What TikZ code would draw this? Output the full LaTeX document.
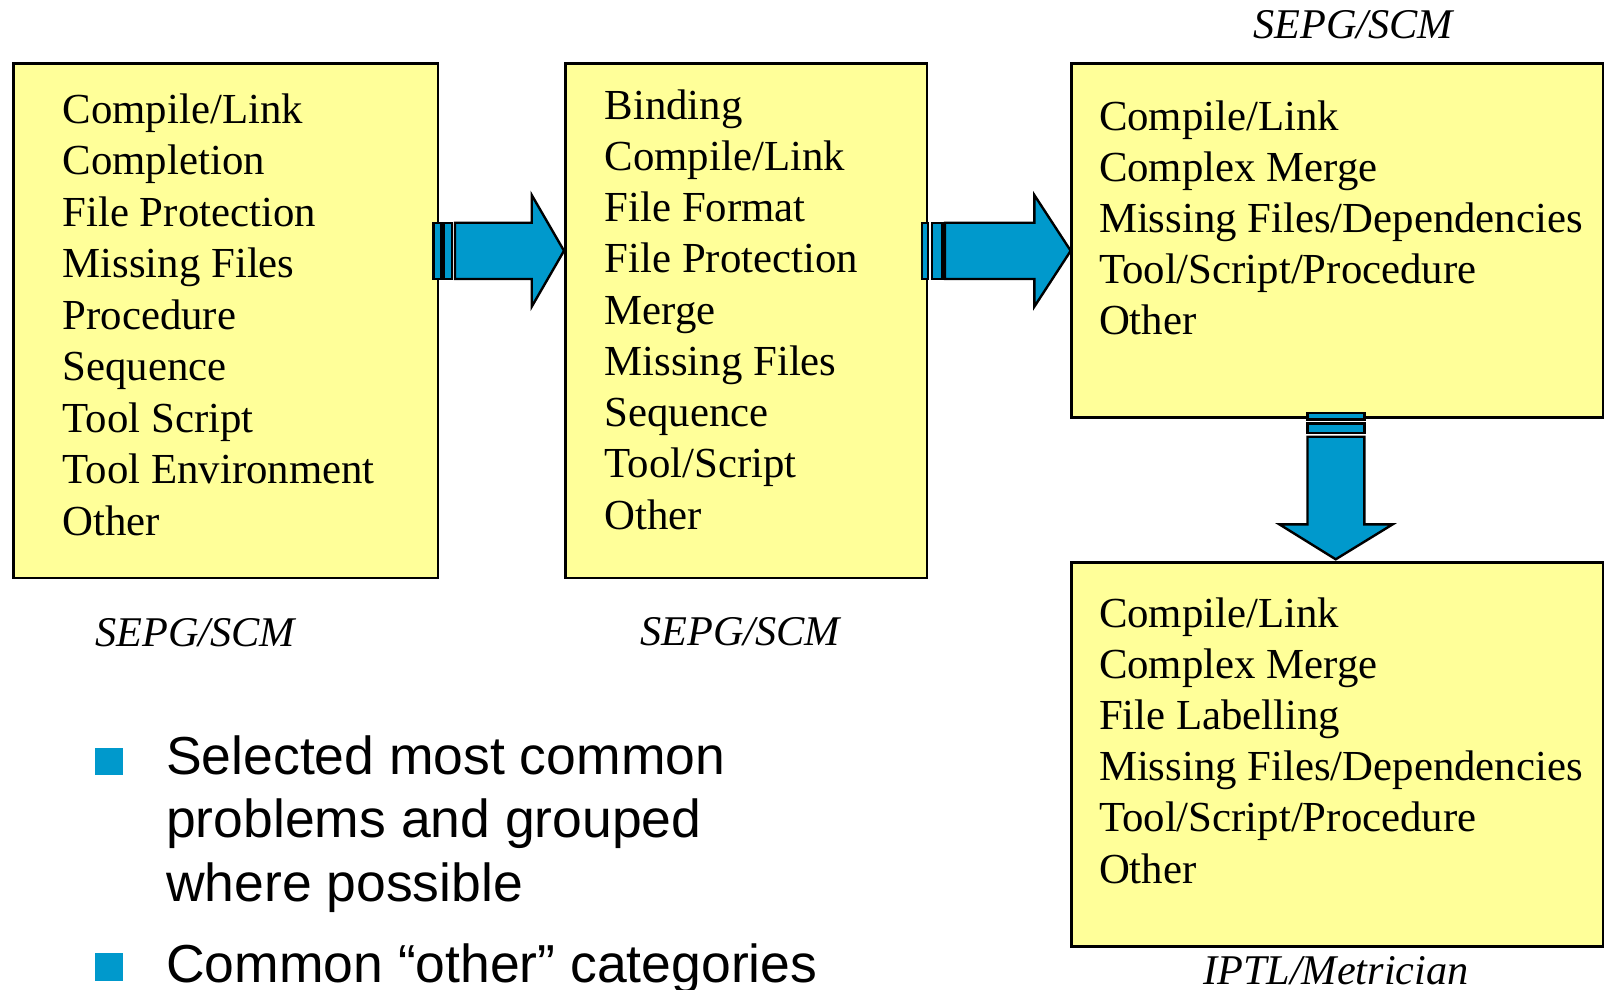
\documentclass[tikz,border=0pt]{standalone}
\usepackage{fontspec}
\setmainfont{Liberation Serif}
\newfontfamily\sansf{Liberation Sans}
\definecolor{boxyellow}{HTML}{FFFF99}
\definecolor{arrowblue}{HTML}{0099CC}
\begin{document}
\begin{tikzpicture}[x=1pt,y=-1pt,
  box/.style={draw=black, line width=2.6pt, fill=boxyellow, inner sep=0pt, anchor=north west},
  blockarrow/.style={draw=black, line width=2.4pt, fill=arrowblue, line join=miter},
  itemtext/.style={anchor=base west, inner sep=0pt, font=\fontsize{42.8}{50}\selectfont},
  caption/.style={anchor=base west, inner sep=0pt, font=\fontsize{42.3}{50}\selectfont\itshape},
  bullettext/.style={anchor=base west, inner sep=0pt, font=\sansf\fontsize{53.5}{64}\selectfont},
  bulletsq/.style={fill=arrowblue, inner sep=0pt, minimum size=27.3pt, anchor=south west}]
\useasboundingbox (0,0) rectangle (1604,990);
\fill[white] (0,0) rectangle (1604,990);
% boxes
\node[box, minimum width=424.7pt, minimum height=514.2pt] (b1) at (12,62.3) {};
\node[box, minimum width=361.7pt, minimum height=514.2pt] (b2) at (564,62.3) {};
\node[box, minimum width=532pt, minimum height=353.7pt] (b3) at (1070,62.3) {};
\node[box, minimum width=532pt, minimum height=384pt] (b4) at (1070,561) {};
% box texts
\foreach \t [count=\i] in {{Compile/Link},{Completion},{File Protection},{Missing Files},{Procedure},{Sequence},{Tool Script},{Tool Environment},{Other}}
  \node[itemtext] (ta\i) at (62.5,{123.2+51.5*(\i-1)}) {\t};
\foreach \t [count=\i] in {{Binding},{Compile/Link},{File Format},{File Protection},{Merge},{Missing Files},{Sequence},{Tool/Script},{Other}}
  \node[itemtext] (tb\i) at (604.5,{119+51.25*(\i-1)}) {\t};
\foreach \t [count=\i] in {{Compile/Link},{Complex Merge},{Missing Files/Dependencies},{Tool/Script/Procedure},{Other}}
  \node[itemtext] (tc\i) at (1098.8,{130+51.2*(\i-1)}) {\t};
\foreach \t [count=\i] in {{Compile/Link},{Complex Merge},{File Labelling},{Missing Files/Dependencies},{Tool/Script/Procedure},{Other}}
  \node[itemtext] (td\i) at (1098.8,{627+51.2*(\i-1)}) {\t};
% captions
\node[caption] (c1) at (95,646) {SEPG/SCM};
\node[caption] (c2) at (640,645) {SEPG/SCM};
\node[caption] (c3) at (1253,39) {SEPG/SCM};
\node[caption] (c4) at (1203,984) {IPTL/Metrician};
% arrow 1
\draw[blockarrow] (433.3,222.7) rectangle (441,279);
\draw[blockarrow] (443.3,222.7) rectangle (451.7,279);
\draw[blockarrow] (455,222.7) -- (531.7,222.7) -- (531.7,195) -- (564,250.8) -- (531.7,306.7) -- (531.7,279) -- (455,279) -- cycle;
% arrow 2
\draw[blockarrow] (921.7,222.7) rectangle (927.7,279);
\draw[blockarrow] (931.7,222.7) rectangle (942.3,279);
\draw[blockarrow] (945,222.7) -- (1034.3,222.7) -- (1034.3,195) -- (1070.7,250.8) -- (1034.3,306.7) -- (1034.3,279) -- (945,279) -- cycle;
% arrow 3
\draw[blockarrow] (1307.5,412.7) rectangle (1364.3,419.3);
\draw[blockarrow] (1307.5,423.3) rectangle (1364.3,432.7);
\draw[blockarrow] (1307.5,436.7) -- (1364.3,436.7) -- (1364.3,524.3) -- (1392.7,524.3) -- (1335.7,559.3) -- (1279.3,524.3) -- (1307.5,524.3) -- cycle;
% bullets
\node[bulletsq] (q1) at (95,775) {};
\node[bulletsq] (q2) at (95,980.7) {};
\node[bullettext] (s1) at (166,774) {Selected most common};
\node[bullettext] (s2) at (166,837.8) {problems and grouped};
\node[bullettext] (s3) at (166,901.6) {where possible};
\node[bullettext] (s4) at (166,982) {Common “other” categories};
\end{tikzpicture}
\end{document}
